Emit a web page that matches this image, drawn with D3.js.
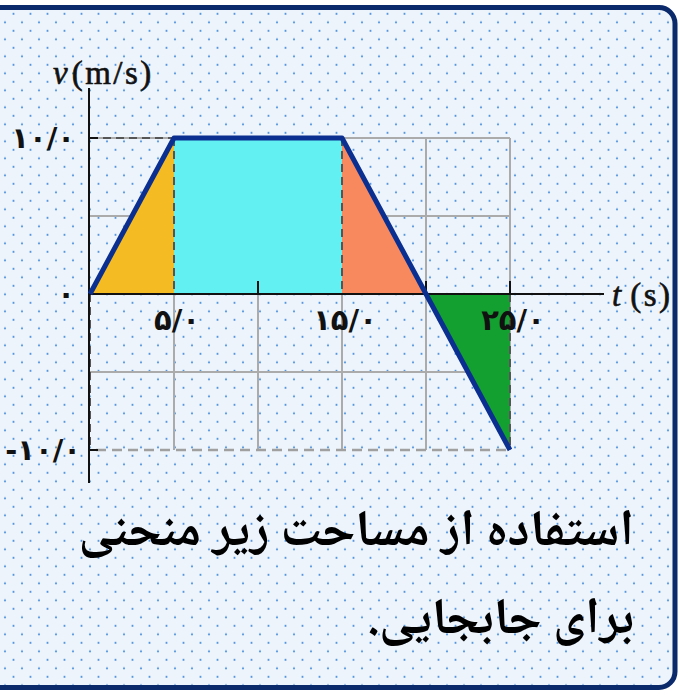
<!DOCTYPE html>
<html lang="fa">
<head>
<meta charset="UTF-8">
<title>v-t</title>
<script src="https://d3js.org/d3.v7.min.js"></script>
<style>
  html, body { margin: 0; padding: 0; background: #fff; }
  svg { display: block; }
</style>
</head>
<body>
<svg id="chart" width="680" height="690"></svg>
<script>
// داده‌ها
const times = [0, 5, 15, 20, 25];
const speeds = [0, 10, 10, 0, -10];
const xTicks = [5, 15, 25];
const xTickLabels = ["۵/۰", "۱۵/۰", "۲۵/۰"];
const yTicks = [10, 0, -10];
const yTickLabels = ["۱۰/۰", "۰", "-۱۰/۰"];
const gridX = [5, 10, 15, 20, 25];
const gridY = [10, 5, -5, -10];
// نواحی زیر منحنی
const regions = [
  { pts: [[0, 0], [5, 10], [5, 0]], color: "#f4bb22" },
  { pts: [[5, 0], [5, 10], [15, 10], [15, 0]], color: "#62f0f2" },
  { pts: [[15, 0], [15, 10], [20, 0]], color: "#f8895f" },
  { pts: [[20, 0], [25, -10], [25, 0]], color: "#13a030" }
];
const caption = ["استفاده از مساحت زیر منحنی", "برای جابجایی."];

const svg = d3.select("#chart");

// پس‌زمینه نقطه‌چین
const defs = svg.append("defs");
const pat = defs.append("pattern")
  .attr("id", "dots")
  .attr("patternUnits", "userSpaceOnUse")
  .attr("x", 0).attr("y", 0.8)
  .attr("width", 17).attr("height", 17);
pat.append("rect").attr("width", 17).attr("height", 17).attr("fill", "#edf4fb");
pat.append("circle").attr("cx", 5).attr("cy", 4.5).attr("r", 1.1).attr("fill", "#4a8fdc");
pat.append("circle").attr("cx", 13.5).attr("cy", 13).attr("r", 1.1).attr("fill", "#4a8fdc");

svg.append("rect")
  .attr("x", -20).attr("y", 7.5)
  .attr("width", 695).attr("height", 680)
  .attr("rx", 16)
  .attr("fill", "url(#dots)")
  .attr("stroke", "#0a2a6c")
  .attr("stroke-width", 5);

const x = d3.scaleLinear().domain([0, 25]).range([90, 510]);
const y = d3.scaleLinear().domain([-10, 10]).range([450, 138]);

// خطوط شبکه
const g = svg.append("g");
g.selectAll(".gx").data(gridX).enter().append("line")
  .attr("x1", d => x(d)).attr("x2", d => x(d))
  .attr("y1", y(10)).attr("y2", y(-10))
  .attr("stroke", "#ababab").attr("stroke-width", 2);
g.selectAll(".gy").data(gridY.filter(d => d !== -10)).enter().append("line")
  .attr("x1", x(0)).attr("x2", x(25))
  .attr("y1", d => y(d)).attr("y2", d => y(d))
  .attr("stroke", "#ababab").attr("stroke-width", 2);
// خط‌چین پایین
g.append("line")
  .attr("x1", x(0)).attr("x2", x(25))
  .attr("y1", y(-10)).attr("y2", y(-10))
  .attr("stroke", "#a0a0a0").attr("stroke-width", 2.5)
  .attr("stroke-dasharray", "10,6").attr("stroke-dashoffset", -6);

// نواحی
const line = d3.line().x(d => x(d[0])).y(d => y(d[1]));
svg.selectAll(".area").data(regions).enter().append("path")
  .attr("d", d => line(d.pts) + "Z")
  .attr("fill", d => d.color);

// خط‌چین‌های تیره
const dashed = [
  [[0, 10], [5, 10]],
  [[5, 10], [5, 0]],
  [[15, 10], [15, 0]],
  [[25, 0], [25, -10]],
  [[0, 0], [0, -10]]
];
svg.selectAll(".dash").data(dashed).enter().append("path")
  .attr("d", d => line(d))
  .attr("fill", "none")
  .attr("stroke", "#555")
  .attr("stroke-width", 2)
  .attr("stroke-dasharray", "8,5");

// محورها
svg.append("line")
  .attr("x1", x(0) - 1).attr("x2", x(0) - 1)
  .attr("y1", 88).attr("y2", 483)
  .attr("stroke", "#111").attr("stroke-width", 2);
svg.append("line")
  .attr("x1", x(0)).attr("x2", 604)
  .attr("y1", y(0)).attr("y2", y(0))
  .attr("stroke", "#111").attr("stroke-width", 2);

// تیک‌ها
svg.selectAll(".ty").data(yTicks.filter(d => d !== 0)).enter().append("line")
  .attr("x1", x(0)).attr("x2", x(0) + 8)
  .attr("y1", d => y(d)).attr("y2", d => y(d))
  .attr("stroke", "#111").attr("stroke-width", 2);
svg.selectAll(".tx").data([10, 20, 25]).enter().append("line")
  .attr("x1", d => x(d)).attr("x2", d => x(d))
  .attr("y1", y(0)).attr("y2", y(0) - 13)
  .attr("stroke", "#111").attr("stroke-width", 2);

// منحنی سرعت
svg.append("path")
  .datum(times.map((t, i) => [t, speeds[i]]))
  .attr("d", line)
  .attr("fill", "none")
  .attr("stroke", "#0b2f91")
  .attr("stroke-width", 5)
  .attr("stroke-linejoin", "round");

// برچسب تیک‌ها
const numFont = "'DejaVu Sans', sans-serif";
svg.selectAll(".lx").data(xTicks).enter().append("text")
  .attr("x", d => x(d) + 3).attr("y", y(0) + 36)
  .attr("text-anchor", "middle")
  .attr("font-family", numFont).attr("font-weight", "bold")
  .attr("font-size", 29).attr("fill", "#111")
  .text((d, i) => xTickLabels[i]);
svg.selectAll(".ly").data(yTicks).enter().append("text")
  .attr("x", d => x(0) - (d < 0 ? 9 : 15)).attr("y", d => y(d) + 10)
  .attr("text-anchor", "end")
  .attr("font-family", numFont).attr("font-weight", "bold")
  .attr("font-size", 29).attr("fill", "#111")
  .attr("direction", "ltr")
  .text((d, i) => yTickLabels[i]);

// عنوان محورها
const axisLabel = (tx, ty, sym, unit, gap) => {
  const t = svg.append("text")
    .attr("x", tx).attr("y", ty)
    .attr("font-family", "'Liberation Serif', serif")
    .attr("font-size", 33).attr("fill", "#111")
    .attr("stroke", "#111").attr("stroke-width", 0.6);
  t.append("tspan").attr("font-style", "italic").text(sym);
  t.append("tspan").attr("dx", gap).attr("letter-spacing", 2.5).text(unit);
};
axisLabel(53, 84, "v", "(m/s)", 4);
axisLabel(612, 306, "t", "(s)", 9);

// متن پایین
svg.selectAll(".cap").data(caption).enter().append("text")
  .attr("x", 634).attr("y", (d, i) => 545 + i * 88)
  .attr("text-anchor", "start")
  .attr("direction", "rtl")
  .attr("font-family", "'Noto Naskh Arabic', 'Noto Sans Arabic', 'DejaVu Sans', sans-serif")
  .attr("font-weight", "bold")
  .attr("font-size", 51).attr("fill", "#000")
  .text(d => d);
</script>
</body>
</html>
